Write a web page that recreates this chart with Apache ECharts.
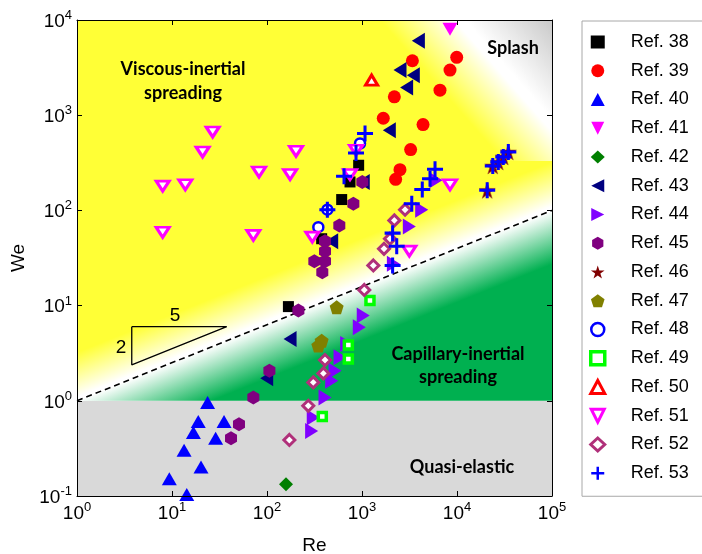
<!DOCTYPE html>
<html><head><meta charset="utf-8">
<script src="https://cdn.jsdelivr.net/npm/echarts@6/dist/echarts.min.js"></script>
<style>html,body{margin:0;padding:0;background:#fff}#c{width:702px;height:554px}</style>
</head><body><div id="c"></div>
<script>
// ---- data (Re, We) ----
const ref38 = [[922,298],[748,199],[611,130],[376,50.4],[168,9.76]];
const ref39 = [[9930,4050],[8440,2976],[3390,3730],[6620,1833],[2190,1560],[1675,929],[4390,798],[3250,435],[2510,268],[2260,212]];
const ref40 = [[23.7,0.96],[18.9,0.605],[35.3,0.605],[16.8,0.464],[28.8,0.405],[13.4,0.303],[20.2,0.202],[9.37,0.152],[14.3,0.104]];
const ref41 = [[8440,7980]];
const ref42 = [[158.5,0.133]];
const ref43 = [[3920,6050],[2510,2976],[3470,2636],[2950,1956],[1940,695],[1030,199],[480,47.5],[175,4.46],[99.3,1.73]];
const ref44 = [[6010,207],[4250,101.7],[3150,67.9],[2140,27.5],[1030,7.85],[937,5.91],[690,3.95],[587,2.86],[520,2.07],[480,1.62],[408,1.08],[307,0.668],[295,0.483]];
const ref45 = [[1007,199],[811,117.5],[577,69.5],[408,47.5],[408,37.3],[315,29.3],[408,29.3],[382,22.4],[214,8.86],[106,2.07],[71.8,1.08],[50.7,0.568],[41.8,0.404]];
const ref46 = [[20800,162.5],[23800,293],[27200,322],[30700,364],[34700,411]];
const ref47 = [[541,9.6],[376,4.28],[347,3.8]];
const ref48 = [[953,504],[432,101.7],[347,66.7]];
const ref49 = [[1213,11.3],[718,3.86],[718,2.75],[382,0.684]];
const ref50 = [[1262,2336]];
const ref51 = [[7.98,180],[13.8,186],[26.8,667],[21.0,411],[7.98,59],[82.4,253],[71.8,54.6],[175,238],[202,418],[300,52.4],[865,428],[748,238],[8440,186],[3150,37.3]];
const ref52 = [[2840,101.7],[2190,78.5],[1970,50.4],[1705,39.5],[1316,26.4],[1057,14.6],[408,2.68],[392,1.94],[307,1.56],[272,0.886],[172,0.388]];
const ref53 = [[1076,642],[865,401],[647,228],[432,101.7],[5870,270],[5200,215],[4310,166],[3340,117.5],[2100,57.7],[2320,42],[2100,26.4],[20800,162.5],[23800,293],[27200,322],[30700,364],[34700,411]];

// regime boundaries
const boundaryLine = [[1,1],[1e5,100]];          // We ~ Re^(2/5)
const slopeTriangle = [[3.77,6],[37.7,6],[3.77,2.39],[3.77,6]];
const regionQuasi = [[1,0.1],[1e5,0.1],[1e5,1],[1,1]];
const regionCap = [[1,1],[1e5,1],[1e5,100]];
const regionVisc = [[1,1],[1e5,100],[1e5,1e4],[1,1e4]];
const regionSplash = [[1000,330],[1e5,330],[1e5,1e4],[1000,1e4]];
const splashBand = [[10700,1e4],[1e5,785]];
const xRange = [1, 1e5];
const yRange = [0.1, 1e4];

const YELLOW = '#ffff36', GREEN = '#00b050', GRAYQ = '#d9d9d9';
const regions = [regionQuasi, regionCap, regionVisc, regionSplash];

function renderBg(params, api) {
  const i = params.dataIndex;
  const c = v => api.coord(v);
  const pts = regions[i].map(c);
  const p0 = c(boundaryLine[0]), p1 = c(boundaryLine[1]);
  const dx = p1[0]-p0[0], dy = p1[1]-p0[1], L = Math.hypot(dx,dy);
  const nx = -dy/L, ny = dx/L; // towards capillary side
  let fill;
  if (i === 0) fill = GRAYQ;
  else if (i === 1) {
    fill = new echarts.graphic.LinearGradient(p0[0], p0[1], p0[0]+nx*50, p0[1]+ny*50,
      [{offset:0,color:'#ffffff'},{offset:1,color:GREEN}], true);
  } else if (i === 2) {
    fill = new echarts.graphic.LinearGradient(p0[0], p0[1], p0[0]-nx*45, p0[1]-ny*45,
      [{offset:0,color:'#ffffff'},{offset:0.08,color:'#ffffff'},{offset:1,color:YELLOW}], true);
  } else {
    const A = c(splashBand[0]), B = c(splashBand[1]);
    const ex = B[0]-A[0], ey = B[1]-A[1], M = Math.hypot(ex,ey);
    const mx = ey/M, my = -ex/M;
    const s = 60, e = 75;
    fill = new echarts.graphic.LinearGradient(A[0]-mx*s, A[1]-my*s, A[0]+mx*e, A[1]+my*e,
      [{offset:0,color:YELLOW},{offset:s/(s+e)-0.03,color:'#ffffff'},{offset:s/(s+e)+0.03,color:'#ffffff'},{offset:1,color:'#c4c4c4'}], true);
  }
  return {type:'polygon', shape:{points:pts}, style:{fill:fill, stroke:null}};
}

const HEX = 'path://M0,-1 L0.866,-0.5 L0.866,0.5 L0,1 L-0.866,0.5 L-0.866,-0.5 Z';
const PENT = 'path://M0,-1 L0.951,-0.309 L0.588,0.809 L-0.588,0.809 L-0.951,-0.309 Z';
const STAR = 'path://M0,-1 L0.2245,-0.309 L0.951,-0.309 L0.363,0.118 L0.588,0.809 L0,0.382 L-0.588,0.809 L-0.363,0.118 L-0.951,-0.309 L-0.2245,-0.309 Z';
const PLUS = 'path://M-0.19,-1 L0.19,-1 L0.19,-0.19 L1,-0.19 L1,0.19 L0.19,0.19 L0.19,1 L-0.19,1 L-0.19,0.19 L-1,0.19 L-1,-0.19 L-0.19,-0.19 Z';
const TRI_DOWN = 'path://M-1,-1 L1,-1 L0,1 Z';
const TRI_LEFT = 'path://M1,-1 L1,1 L-1,0 Z';
const TRI_RIGHT = 'path://M-1,-1 L-1,1 L1,0 Z';

function sc(name, data, symbol, size, style) {
  return {type:'scatter', name, data, symbol, symbolSize:size,
    symbolKeepAspect:false, itemStyle: Object.assign({opacity:1}, style), z:3};
}
const filled = c => ({color:c, borderWidth:0});
const open = (c,w) => ({color:'#ffffff', borderColor:c, borderWidth:w});

const series = [
  {type:'custom', name:'bg', renderItem:renderBg, data:regions.map(r=>r[0]), silent:true, z:1, clip:true},
  sc('Ref. 38', ref38, 'rect', 11, filled('#000000')),
  sc('Ref. 39', ref39, 'circle', 13, filled('#ff0000')),
  sc('Ref. 40', ref40, 'triangle', [15,13], filled('#0000ff')),
  sc('Ref. 41', ref41, TRI_DOWN, [15,13], filled('#ff00ff')),
  sc('Ref. 42', ref42, 'diamond', 14, filled('#007f00')),
  sc('Ref. 43', ref43, TRI_LEFT, [13,16], filled('#000080')),
  sc('Ref. 44', ref44, TRI_RIGHT, [13,16], filled('#8000ff')),
  sc('Ref. 45', ref45, HEX, [12,14], filled('#800080')),
  sc('Ref. 46', ref46, STAR, 16, {color:'#800000', borderColor:'#a0522d', borderWidth:0.6}),
  sc('Ref. 47', ref47, PENT, 14, filled('#808000')),
  sc('Ref. 48', ref48, 'circle', 10, open('#0000ff',2.5)),
  sc('Ref. 49', ref49, 'rect', 8, open('#00ff00',3.5)),
  sc('Ref. 50', ref50, 'triangle', [12,10], open('#ff0000',3)),
  sc('Ref. 51', ref51, TRI_DOWN, [13,10], open('#ff00ff',3)),
  sc('Ref. 52', ref52, 'diamond', 11, open('#b0307a',3)),
  sc('Ref. 53', ref53, PLUS, 16, filled('#0000ff')),
  {type:'line', name:'boundary', data:boundaryLine, symbol:'none', silent:true, z:2,
   lineStyle:{color:'#000', width:1.6, type:[6,4]}},
  {type:'line', name:'slope', data:slopeTriangle, symbol:'none', silent:true, z:2,
   lineStyle:{color:'#000', width:1.3}}
];

const legendData = series.filter(s=>s.type==='scatter').map(s => {
  const it = {name:s.name};
  if (s.name === 'Ref. 46') it.itemStyle = {borderWidth:0};
  else if (s.itemStyle.borderColor) it.itemStyle = {borderWidth: s.itemStyle.borderWidth, borderColor:s.itemStyle.borderColor, color:'#ffffff'};
  return it;
});

const supLabel = v => {
  const e = Math.round(Math.log10(v));
  return '{b|10}{s|' + e + '}';
};
const tickFont = 'Liberation Sans, Arial, sans-serif';
const rich = {
  b:{fontSize:19, fontFamily:tickFont, color:'#000', verticalAlign:'bottom', lineHeight:22},
  s:{fontSize:13, fontFamily:tickFont, color:'#000', verticalAlign:'bottom', lineHeight:22, padding:[0,0,9,0]}
};
function axis(pos, range, show, extra) {
  return Object.assign({
    type:'log', logBase:10, min:range[0], max:range[1], position:pos, z:10,
    axisLine:{show:true, onZero:false, lineStyle:{color:'#000', width:1}},
    axisTick:{show:true, inside:true, length:5, lineStyle:{color:'#000'}},
    minorTick:{show:false}, splitLine:{show:false},
    axisLabel:{show:show, formatter:supLabel, rich:rich, margin:5}
  }, extra||{});
}

const chart = echarts.init(document.getElementById('c'), null, {renderer:'canvas'});
chart.setOption({
  animation:false,
  backgroundColor:'#ffffff',
  grid:{left:77, top:20, width:475, height:476, containLabel:false, outerBoundsMode:'none'},
  xAxis:[
    axis('bottom',xRange,true,{name:'Re', nameLocation:'middle', nameGap:40,
      nameTextStyle:{fontSize:19, fontFamily:tickFont, color:'#000'}}),
    axis('top',xRange,false)
  ],
  yAxis:[
    axis('left',yRange,true,{name:'We', nameLocation:'middle', nameGap:48,
      nameTextStyle:{fontSize:19, fontFamily:tickFont, color:'#000'}}),
    axis('right',yRange,false)
  ],
  legend:{
    data:legendData, orient:'vertical', left:582, top:21,
    itemWidth:14, itemHeight:13, itemGap:8.75,
    padding:[11,15,13,7], borderColor:'#a8a8a8', borderWidth:1,
    textStyle:{fontFamily:tickFont, fontSize:18, color:'#000', padding:[0,0,0,21], lineHeight:20},
    selectedMode:false
  },
  graphic:[
    {type:'text', x:183, y:81, style:{text:'Viscous-inertial\nspreading', align:'center', verticalAlign:'middle', lineHeight:24, fontFamily:'Lato', fontWeight:'bold', fontSize:18, fill:'#000'}, z:20},
    {type:'text', x:513, y:48, style:{text:'Splash', align:'center', verticalAlign:'middle', fontFamily:'Lato', fontWeight:'bold', fontSize:18, fill:'#000'}, z:20},
    {type:'text', x:458, y:366, style:{text:'Capillary-inertial\nspreading', align:'center', verticalAlign:'middle', lineHeight:23, fontFamily:'Lato', fontWeight:'bold', fontSize:18, fill:'#000'}, z:20},
    {type:'text', x:462, y:467, style:{text:'Quasi-elastic', align:'center', verticalAlign:'middle', fontFamily:'Lato', fontWeight:'bold', fontSize:18, fill:'#000'}, z:20},
    {type:'text', x:175, y:316, style:{text:'5', align:'center', verticalAlign:'middle', fontFamily:tickFont, fontSize:19, fill:'#000'}, z:20},
    {type:'text', x:121, y:348, style:{text:'2', align:'center', verticalAlign:'middle', fontFamily:tickFont, fontSize:19, fill:'#000'}, z:20}
  ],
  series:series
});
</script></body></html>
